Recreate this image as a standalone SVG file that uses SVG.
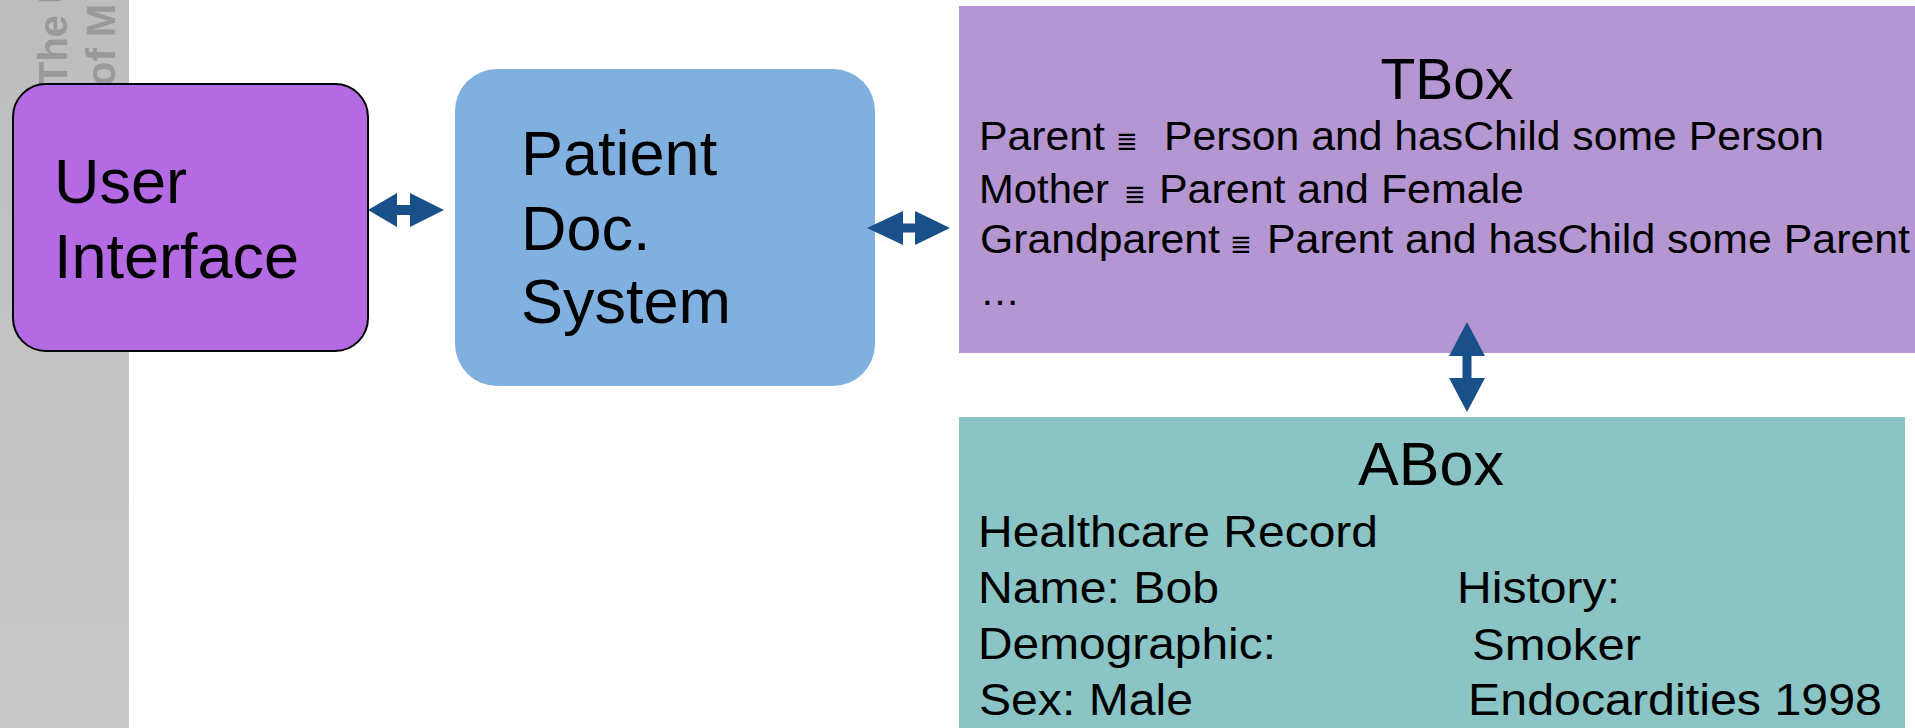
<svg xmlns="http://www.w3.org/2000/svg" width="1915" height="728" viewBox="0 0 1915 728">
<defs>
<linearGradient id="strip" x1="0" y1="0" x2="0" y2="1">
<stop offset="0" stop-color="#bdbdbd"/>
<stop offset="1" stop-color="#cacaca"/>
</linearGradient>
</defs>
<style>
.t{font-family:"Liberation Sans",Arial,sans-serif;fill:#000}
.big{font-size:63px}
.title{font-size:57px}
.tb{font-size:40px}
.ab{font-size:45px}
.eq{font-family:"DejaVu Sans",sans-serif;font-size:26px;fill:#000}
.logo{font-family:"Liberation Sans",Arial,sans-serif;font-size:40px;font-weight:bold;fill:#999999}
.arrow{fill:#1a5089}
</style>
<rect width="1915" height="728" fill="#ffffff"/>
<g id="strip-bg">
<rect x="0" y="0" width="129" height="728" fill="url(#strip)"/>
<text class="logo" x="67" y="86" transform="rotate(-90 67 86)">The U</text>
<text class="logo" x="115" y="86" transform="rotate(-90 115 86)">of M</text>
</g>
<g id="user-interface">
<rect x="13" y="84" width="355" height="267" rx="33" ry="33" fill="#b36ae2" stroke="#000" stroke-width="2"/>
<text class="t big" x="54" y="203">User</text>
<text class="t big" x="54" y="278">Interface</text>
</g>
<g id="patient-doc-system">
<rect x="455" y="69" width="420" height="317" rx="42" ry="42" fill="#80b0e0"/>
<text class="t big" x="521" y="175">Patient</text>
<text class="t big" x="521" y="250">Doc.</text>
<text class="t big" x="521" y="323">System</text>
</g>
<g id="tbox">
<rect x="959" y="6" width="956" height="347" fill="#b496d2"/>
<text class="t title" x="1447" y="99" text-anchor="middle">TBox</text>
<text class="t tb" x="979" y="150" textLength="126" lengthAdjust="spacingAndGlyphs">Parent</text>
<text class="eq" x="1116" y="150">≣</text>
<text class="t tb" x="1164" y="150" textLength="660" lengthAdjust="spacingAndGlyphs">Person and hasChild some Person</text>
<text class="t tb" x="979" y="203" textLength="130" lengthAdjust="spacingAndGlyphs">Mother</text>
<text class="eq" x="1124" y="203">≣</text>
<text class="t tb" x="1159" y="203" textLength="365" lengthAdjust="spacingAndGlyphs">Parent and Female</text>
<text class="t tb" x="980" y="253" textLength="240" lengthAdjust="spacingAndGlyphs">Grandparent</text>
<text class="eq" x="1230" y="253">≣</text>
<text class="t tb" x="1267" y="253" textLength="643" lengthAdjust="spacingAndGlyphs">Parent and hasChild some Parent</text>
<text class="t tb" x="980" y="305">…</text>
</g>
<g id="abox">
<rect x="959" y="417" width="946" height="311" fill="#8ac4c4"/>
<text class="t" x="1431" y="485" text-anchor="middle" font-size="61">ABox</text>
<text class="t ab" x="978" y="547" textLength="400" lengthAdjust="spacingAndGlyphs">Healthcare Record</text>
<text class="t ab" x="978" y="603" textLength="241" lengthAdjust="spacingAndGlyphs">Name: Bob</text>
<text class="t ab" x="978" y="659" textLength="298" lengthAdjust="spacingAndGlyphs">Demographic:</text>
<text class="t ab" x="979" y="715" textLength="214" lengthAdjust="spacingAndGlyphs">Sex: Male</text>
<text class="t ab" x="1457" y="603" textLength="163" lengthAdjust="spacingAndGlyphs">History:</text>
<text class="t ab" x="1472" y="660" textLength="169" lengthAdjust="spacingAndGlyphs">Smoker</text>
<text class="t ab" x="1468" y="715" textLength="414" lengthAdjust="spacingAndGlyphs">Endocardities 1998</text>
</g>
<g id="connectors">
<polygon class="arrow" points="368,210 397,193 397,205 410,205 410,193 444,210 410,227 410,215 397,215 397,227"/>
<polygon class="arrow" points="867,228 903,211 903,223.5 915,223.5 915,211 950,228 915,245 915,232.5 903,232.5 903,245"/>
<polygon class="arrow" points="1467,322 1485,356 1471.5,356 1471.5,378 1485,378 1467,412 1449,378 1462.5,378 1462.5,356 1449,356"/>
</g>
</svg>
